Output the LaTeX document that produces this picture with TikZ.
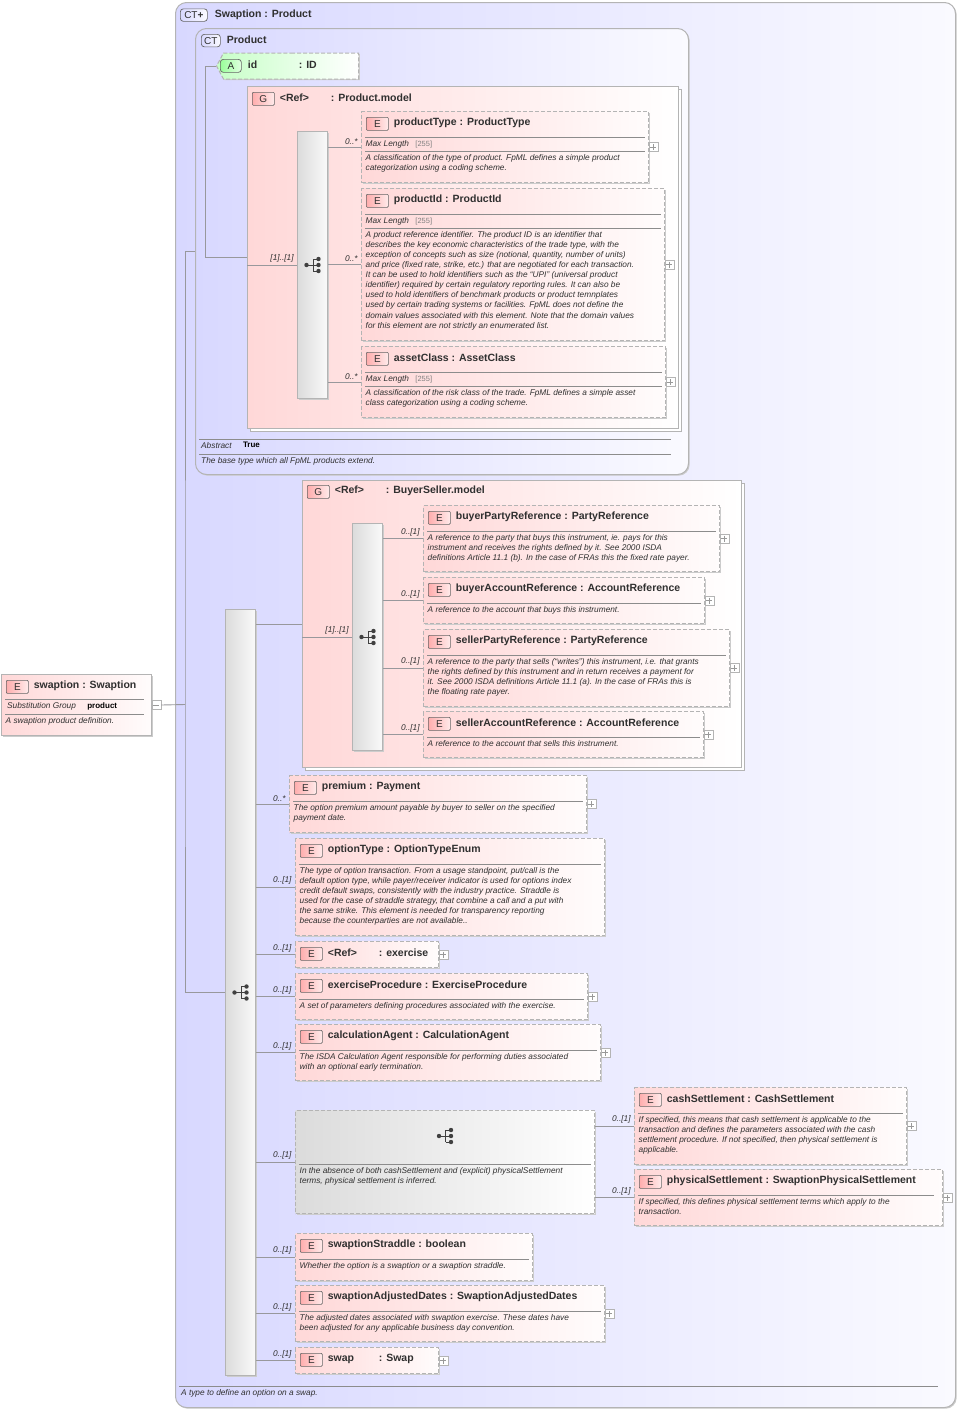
\documentclass[tikz,border=0pt]{standalone}
\usepackage{fontspec}
\setmainfont{Liberation Sans}
\usetikzlibrary{positioning, shadows, shapes.symbols}

\definecolor{pinkL}{HTML}{FFD8D8}
\definecolor{pinkM}{HTML}{FFE6E6}
\definecolor{pinkR}{HTML}{FFFCFC}
\definecolor{ctL}{HTML}{D8D8FF}
\definecolor{ctR}{HTML}{FAFAFF}
\definecolor{boxline}{HTML}{B4B4B4}
\definecolor{wirecol}{HTML}{98989C}
\definecolor{inkcol}{HTML}{303030}

\tikzstyle{shade} = [general shadow={fill=black!20, shadow xshift=1.2pt, shadow yshift=-1.2pt}]
\tikzstyle{ctbox} = [rectangle, rounded corners=11pt, anchor=north west, draw=boxline, line width=1pt, left color=ctL, right color=ctR, shade, inner sep=0pt]
\tikzstyle{elemdash} = [rectangle, anchor=north west, draw=boxline, line width=1pt, dash pattern=on 4pt off 2pt, left color=pinkL, middle color=pinkM, right color=pinkR, shade, inner sep=0pt]
\tikzstyle{elemsolid} = [elemdash, solid]
\tikzstyle{groupbox} = [rectangle, anchor=north west, draw=boxline, line width=1pt, left color=pinkL, middle color=pinkM, right color=white, inner sep=0pt, copy shadow={shadow xshift=2.5pt, shadow yshift=-2.5pt, fill=white, draw=boxline}]
\tikzstyle{barbox} = [rectangle, anchor=north west, draw=boxline, line width=1pt, left color=black!14, right color=black!2, shade, inner sep=0pt]
\tikzstyle{choicebox} = [barbox, dash pattern=on 4pt off 2pt, right color=white]
\tikzstyle{attrbox} = [signal, signal to=west, signal pointer angle=124, anchor=west, draw=boxline, line width=1pt, dash pattern=on 4pt off 2pt, left color=green!22, right color=white, shade, inner sep=0pt, minimum width=142pt, minimum height=26pt]
\tikzstyle{badge} = [rectangle, rounded corners=1pt, anchor=north west, draw=black!60, line width=.7pt, left color=red!32, right color=red!8, text=inkcol, font=\fontsize{10}{10}\selectfont, inner sep=0pt, minimum width=22pt, minimum height=13pt]
\tikzstyle{ctbadge} = [rectangle, rounded corners=3pt, anchor=north west, draw=black!60, line width=.7pt, left color=ctL, right color=ctR, text=inkcol, font=\fontsize{10}{10}\selectfont, inner sep=0pt, minimum height=12.5pt]
\tikzstyle{abadge} = [ctbadge, left color=green!40, right color=green!12, minimum width=21pt, minimum height=13pt]
\tikzstyle{titletext} = [anchor=west, inner sep=0pt, text=inkcol, font=\fontsize{10.5}{11}\bfseries\selectfont]
\tikzstyle{doctext} = [anchor=north west, inner sep=0pt, align=left, text=inkcol, font=\fontsize{8.3}{10.1}\itshape\selectfont]
\tikzstyle{boldtext} = [anchor=west, inner sep=0pt, text=black, font=\fontsize{8}{10}\bfseries\selectfont]
\tikzstyle{greytext} = [anchor=west, inner sep=0pt, text=black!50, font=\fontsize{7.5}{10}\selectfont]
\tikzstyle{rulestyle} = [draw=black!45, line width=.8pt]
\tikzstyle{wire} = [draw=wirecol, line width=.9pt]
\tikzstyle{mult} = [pos=1, anchor=south east, inner sep=1pt, xshift=-2pt, yshift=1pt, text=inkcol, font=\fontsize{8.3}{10}\itshape\selectfont]
\tikzstyle{plusbox} = [rectangle, draw=boxline, fill=white, line width=.7pt, inner sep=0pt, minimum size=9pt, path picture={\draw [draw=black!40, line width=.7pt] ([xshift=1.5pt]path picture bounding box.west) -- ([xshift=-1.5pt]path picture bounding box.east) ([yshift=-1.5pt]path picture bounding box.north) -- ([yshift=1.5pt]path picture bounding box.south);}]
\tikzstyle{minusbox} = [rectangle, draw=boxline, fill=white, line width=.7pt, inner sep=0pt, minimum size=9pt, path picture={\draw [draw=black!40, line width=.7pt] ([xshift=1.5pt]path picture bounding box.west) -- ([xshift=-1.5pt]path picture bounding box.east);}]
\tikzset{seqicon/.pic={
	\draw [draw=black!75, line width=.9pt] (-6,0) -- (0.5,0) (0.5,-6) -- (0.5,6) (0.5,-6) -- (6,-6) (0.5,6) -- (6,6) (0.5,0) -- (6,0);
	\fill [black!75] (-6,0) circle (2.2) (6,-6) circle (2.2) (6,0) circle (2.2) (6,6) circle (2.2);
}}

% box, badge and title of one element
\newcommand{\elem}[7][elemdash]{
	\node (#2) [#1, minimum width=#5pt, minimum height=#6pt] at (#3,#4) {};
	\node (#2B) [badge] at ([xshift=5pt,yshift=-6pt]#2.north west) {E};
	\node (#2T) [titletext, right=5pt of #2B, yshift=1pt] {#7};
}
% rule and text below the title
\newcommand{\doc}[4][4]{
	\draw [rulestyle] ([xshift=4pt,yshift=-#3pt]#2.north west) -- ([xshift=-#1pt,yshift=-#3pt]#2.north east);
	\node [doctext] at ([xshift=4.5pt,yshift=-#3pt-3pt]#2.north west) {#4};
}
\newcommand{\maxlen}[2]{
	\draw [rulestyle] ([xshift=4pt,yshift=-26pt]#1.north west) -- ([xshift=-4pt,yshift=-26pt]#1.north east);
	\node (#1M) [doctext] at ([xshift=4.5pt,yshift=-29pt]#1.north west) {Max Length};
	\node [greytext, right=#2pt of #1M] {[255]};
}

\begin{document}
\begin{tikzpicture}[x=1pt, y=-1pt, node distance=5pt]
	\useasboundingbox (0,0) rectangle (959,1409);

	\node (ctSwap) [ctbox, minimum width=780pt, minimum height=1405pt] at (175,2) {};
	\node (ctSwapB) [ctbadge, minimum width=27pt] at (180,8.5) {CT\textbf{+}};
	\node (ctSwapT) [titletext, right=7pt of ctSwapB, yshift=.5pt] {Swaption : Product};
	\draw [rulestyle] ([xshift=4pt,yshift=-1384pt]ctSwap.north west) -- ([xshift=-18pt,yshift=-1384pt]ctSwap.north east);
	\node [doctext] at (181,1389) {A type to define an option on a swap.};

	\node (ctProd) [ctbox, minimum width=493pt, minimum height=446pt] at (195,28) {};
	\node (ctProdB) [ctbadge, minimum width=19pt] at (201,34) {CT};
	\node (ctProdT) [titletext, right=6pt of ctProdB, yshift=.5pt] {Product};
	\draw [rulestyle] ([xshift=4pt,yshift=-411pt]ctProd.north west) -- ([xshift=-18pt,yshift=-411pt]ctProd.north east);
	\draw [rulestyle] ([xshift=4pt,yshift=-426pt]ctProd.north west) -- ([xshift=-18pt,yshift=-426pt]ctProd.north east);
	\node (absKey) [doctext] at (201,442) {Abstract};
	\node [boldtext, right=11pt of absKey] {True};
	\node [doctext] at (201,457) {The base type which all FpML products extend.};

	\node (idAttr) [attrbox] at (216,66) {};
	\node (idAttrB) [abadge] at (220,59) {A};
	\node [titletext, right=6pt of idAttrB, yshift=1pt] {\makebox[51pt][l]{id}: ID};

	% Product.model
	\node (grpProd) [groupbox, minimum width=431pt, minimum height=342pt] at (247,86) {};
	\node (grpProdB) [badge] at (252,92) {G};
	\node [titletext, right=5pt of grpProdB, yshift=1pt] {\makebox[51pt][l]{<Ref>}: Product.model};
	\node (barProd) [barbox, minimum width=30pt, minimum height=267pt] at (297,131) {};
	\pic at (barProd) {seqicon};

	\elem{prodType}{361}{111}{287}{71}{productType : ProductType}
	\maxlen{prodType}{6}
	\doc{prodType}{40}{A classification of the type of product. FpML defines a simple product\\categorization using a coding scheme.}
	\elem{prodId}{361}{188}{303}{152}{productId : ProductId}
	\maxlen{prodId}{6}
	\doc{prodId}{40}{A product reference identifier. The product ID is an identifier that\\describes the key economic characteristics of the trade type, with the\\exception of concepts such as size (notional, quantity, number of units)\\and price (fixed rate, strike, etc.) that are negotiated for each transaction.\\It can be used to hold identifiers such as the ``UPI'' (universal product\\identifier) required by certain regulatory reporting rules. It can also be\\used to hold identifiers of benchmark products or product temnplates\\used by certain trading systems or facilities. FpML does not define the\\domain values associated with this element. Note that the domain values\\for this element are not strictly an enumerated list.}
	\elem{assetCl}{361}{346}{304}{71}{assetClass : AssetClass}
	\maxlen{assetCl}{6}
	\doc{assetCl}{40}{A classification of the risk class of the trade. FpML defines a simple asset\\class categorization using a coding scheme.}

	% BuyerSeller.model
	\node (grpBuy) [groupbox, minimum width=439pt, minimum height=287pt] at (302,480) {};
	\node (grpBuyB) [badge] at (307,485) {G};
	\node [titletext, right=5pt of grpBuyB, yshift=1pt] {\makebox[51pt][l]{<Ref>}: BuyerSeller.model};
	\node (barBuy) [barbox, minimum width=30pt, minimum height=227pt] at (352,523) {};
	\pic at (barBuy) {seqicon};

	\elem{buyParty}{423}{505}{296}{66}{buyerPartyReference : PartyReference}
	\doc{buyParty}{26}{A reference to the party that buys this instrument, ie. pays for this\\instrument and receives the rights defined by it. See 2000 ISDA\\definitions Article 11.1 (b). In the case of FRAs this the fixed rate payer.}
	\elem{buyAcc}{423}{577}{281}{46}{buyerAccountReference : AccountReference}
	\doc{buyAcc}{26}{A reference to the account that buys this instrument.}
	\elem{sellParty}{423}{629}{306}{77}{sellerPartyReference : PartyReference}
	\doc{sellParty}{26}{A reference to the party that sells (``writes'') this instrument, i.e. that grants\\the rights defined by this instrument and in return receives a payment for\\it. See 2000 ISDA definitions Article 11.1 (a). In the case of FRAs this is\\the floating rate payer.}
	\elem{sellAcc}{423}{711}{280}{46}{sellerAccountReference : AccountReference}
	\doc{sellAcc}{26}{A reference to the account that sells this instrument.}

	% main sequence
	\node (barMain) [barbox, minimum width=30pt, minimum height=766pt] at (225,609) {};
	\pic at (barMain) {seqicon};

	\elem{premium}{289}{775}{297}{57}{premium : Payment}
	\doc{premium}{26}{The option premium amount payable by buyer to seller on the specified\\payment date.}
	\elem{optType}{295}{838}{309}{97}{optionType : OptionTypeEnum}
	\doc{optType}{26}{The type of option transaction. From a usage standpoint, put/call is the\\default option type, while payer/receiver indicator is used for options index\\credit default swaps, consistently with the industry practice. Straddle is\\used for the case of straddle strategy, that combine a call and a put with\\the same strike. This element is needed for transparency reporting\\because the counterparties are not available..}
	\elem{exerc}{295}{941}{143}{26}{\makebox[51pt][l]{<Ref>}: exercise}
	\elem{exProc}{295}{973}{292}{46}{exerciseProcedure : ExerciseProcedure}
	\doc{exProc}{26}{A set of parameters defining procedures associated with the exercise.}
	\elem{calcAg}{295}{1024}{305}{56}{calculationAgent : CalculationAgent}
	\doc{calcAg}{26}{The ISDA Calculation Agent responsible for performing duties associated\\with an optional early termination.}

	\node (choice) [choicebox, minimum width=299pt, minimum height=103pt] at (295,1110) {};
	\pic at ([yshift=-26pt]choice.north) {seqicon};
	\doc{choice}{54}{In the absence of both cashSettlement and (explicit) physicalSettlement\\terms, physical settlement is inferred.}

	\elem{cashSet}{634}{1087}{272}{77}{cashSettlement : CashSettlement}
	\doc{cashSet}{26}{If specified, this means that cash settlement is applicable to the\\transaction and defines the parameters associated with the cash\\settlement procedure. If not specified, then physical settlement is\\applicable.}
	\elem{physSet}{634}{1169}{308}{56}{physicalSettlement : SwaptionPhysicalSettlement}
	\doc[9]{physSet}{26}{If specified, this defines physical settlement terms which apply to the\\transaction.}

	\elem{straddle}{295}{1233}{237}{47}{swaptionStraddle : boolean}
	\doc{straddle}{26}{Whether the option is a swaption or a swaption straddle.}
	\elem{adjDates}{295}{1285}{309}{56}{swaptionAdjustedDates : SwaptionAdjustedDates}
	\doc{adjDates}{26}{The adjusted dates associated with swaption exercise. These dates have\\been adjusted for any applicable business day convention.}
	\elem{swap}{295}{1347}{143}{26}{\makebox[51pt][l]{swap}: Swap}

	\elem[elemsolid]{swaption}{1}{674}{150}{61}{swaption : Swaption}
	\draw [rulestyle] ([xshift=4pt,yshift=-25pt]swaption.north west) -- ([xshift=-8pt,yshift=-25pt]swaption.north east);
	\node (subKey) [doctext] at (7,702) {Substitution Group};
	\node [boldtext, right=11pt of subKey] {product};
	\doc[8]{swaption}{40}{A swaption product definition.}

	% expand boxes
	\node (plusType) [plusbox, right=-.5pt of prodType] {};
	\node (plusId) [plusbox, right=-.5pt of prodId] {};
	\node (plusCl) [plusbox, right=-.5pt of assetCl] {};
	\node (plusBP) [plusbox, right=-.5pt of buyParty] {};
	\node (plusBA) [plusbox, right=-.5pt of buyAcc] {};
	\node (plusSP) [plusbox, right=-.5pt of sellParty] {};
	\node (plusSA) [plusbox, right=-.5pt of sellAcc] {};
	\node (plusPr) [plusbox, right=-.5pt of premium] {};
	\node (plusEx) [plusbox, right=-.5pt of exerc] {};
	\node (plusEP) [plusbox, right=-.5pt of exProc] {};
	\node (plusCA) [plusbox, right=-.5pt of calcAg] {};
	\node (plusCS) [plusbox, right=-.5pt of cashSet] {};
	\node (plusPS) [plusbox, right=-.5pt of physSet] {};
	\node (plusAD) [plusbox, right=-.5pt of adjDates] {};
	\node (plusSw) [plusbox, right=-.5pt of swap] {};
	\node (minusTop) [minusbox, right=-.5pt of swaption] {};

	\coordinate (trunkTop) at (185,704.5);
	\coordinate (trunkProd) at (205,66);

	\draw [wire] (minusTop.east) -- (trunkTop);
	\draw [wire] (ctProd.west) -| (trunkTop) |- (barMain.west);
	\node [mult, anchor=south east] at (barMain.west) {[1]..[1]};
	\draw [wire] (idAttr.west) -- (trunkProd) |- (grpProd.west);
	\node [mult, anchor=south east] at ([yshift=1pt]grpProd.north west) {[1]..[1]};
	\draw [wire] (barProd.west -| grpProd.west) -- node [mult] {[1]..[1]} (barProd.west);
	\draw [wire] (prodType.west -| barProd.east) -- node [mult] {0..*} (prodType.west);
	\draw [wire] (prodId.west -| barProd.east) -- node [mult] {0..*} (prodId.west);
	\draw [wire] (assetCl.west -| barProd.east) -- node [mult] {0..*} (assetCl.west);

	\draw [wire] (grpBuy.west -| barMain.east) -- (grpBuy.west);
	\node [mult, anchor=south east] at ([yshift=1pt]grpBuy.north west) {[1]..[1]};
	\draw [wire] (barBuy.west -| grpBuy.west) -- node [mult] {[1]..[1]} (barBuy.west);
	\draw [wire] (buyParty.west -| barBuy.east) -- node [mult] {0..[1]} (buyParty.west);
	\draw [wire] (buyAcc.west -| barBuy.east) -- node [mult] {0..[1]} (buyAcc.west);
	\draw [wire] (sellParty.west -| barBuy.east) -- node [mult] {0..[1]} (sellParty.west);
	\draw [wire] (sellAcc.west -| barBuy.east) -- node [mult] {0..[1]} (sellAcc.west);

	\draw [wire] (premium.west -| barMain.east) -- node [mult] {0..*} (premium.west);
	\draw [wire] (optType.west -| barMain.east) -- node [mult] {0..[1]} (optType.west);
	\draw [wire] (exerc.west -| barMain.east) -- node [mult] {0..[1]} (exerc.west);
	\draw [wire] (exProc.west -| barMain.east) -- node [mult] {0..[1]} (exProc.west);
	\draw [wire] (calcAg.west -| barMain.east) -- node [mult] {0..[1]} (calcAg.west);
	\draw [wire] (choice.west -| barMain.east) -- node [mult] {0..[1]} (choice.west);
	\draw [wire] (cashSet.west -| choice.east) -- node [mult] {0..[1]} (cashSet.west);
	\draw [wire] (physSet.west -| choice.east) -- node [mult] {0..[1]} (physSet.west);
	\draw [wire] (straddle.west -| barMain.east) -- node [mult] {0..[1]} (straddle.west);
	\draw [wire] (adjDates.west -| barMain.east) -- node [mult] {0..[1]} (adjDates.west);
	\draw [wire] (swap.west -| barMain.east) -- node [mult] {0..[1]} (swap.west);
\end{tikzpicture}
\end{document}
